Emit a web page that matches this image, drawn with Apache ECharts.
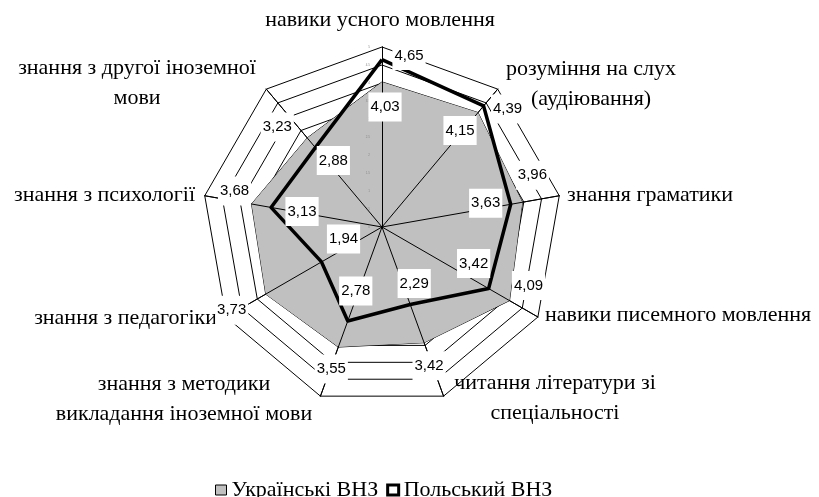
<!DOCTYPE html>
<html>
<head>
<meta charset="utf-8">
<script src="https://cdn.jsdelivr.net/npm/echarts@6/dist/echarts.min.js"></script>
<style>
  html, body { margin: 0; padding: 0; background: #fff; }
  #chart { width: 819px; height: 497px; }
</style>
</head>
<body>
<div id="chart"></div>
<script>
// categories in clockwise order, starting at the top
const CATEGORIES = [
  "навики усного мовлення",
  "розуміння на слух\n(аудіювання)",
  "знання граматики",
  "навики писемного мовлення",
  "читання літератури зі\nспеціальності",
  "знання з методики\nвикладання іноземної мови",
  "знання з педагогіки",
  "знання з психології",
  "знання з другої іноземної\nмови",
];
const UKRAINIAN = [4.03, 4.15, 3.96, 4.09, 3.42, 3.55, 3.73, 3.68, 3.23];
const POLISH = [4.65, 4.39, 3.63, 3.42, 2.29, 2.78, 1.94, 3.13, 2.88];
const SERIES_NAMES = ["Українські ВНЗ", "Польський ВНЗ"];
const AXIS_MAX = 5;
const AXIS_SPLITS = 10;

// value label placement: px away from the vertex, category order
const UA_LABEL_OFFSETS = [[3, 25], [-18, 18], [10, -27], [19, -15], [5, 23], [-7, 22], [-34, 16], [-17, -13], [-30, -11]];
const PL_LABEL_OFFSETS = [[27, -4], [24, 3], [-25, -1], [-15, -25], [4, -21], [8, -30], [22, -23], [31, 4], [18, 13]];

// category name placement: [x, y(middle), align]
const NAME_LAYOUT = [
  [380, 20, "center"],
  [591, 84, "center"],
  [567, 195, "left"],
  [545, 315, "left"],
  [555, 398, "center"],
  [184, 399, "center"],
  [217, 318, "right"],
  [195, 195, "right"],
  [137, 83, "center"],
];

const CENTER = [382, 227];
const RADIUS = 180;

const chart = echarts.init(document.getElementById("chart"));

// echarts lays indicators out counter-clockwise, so map category k to its slot
function slotOf(k) {
  return k === 0 ? 0 : CATEGORIES.length - k;
}

function toSlots(arr) {
  const out = [];
  arr.forEach((v, k) => { out[slotOf(k)] = v; });
  return out;
}

function fmt(v) {
  return v.toFixed(2).replace(".", ",");
}

function indicators(withLabel) {
  return toSlots(CATEGORIES).map((name, i) => {
    const ind = { name: name, min: 0, max: AXIS_MAX };
    if (withLabel && i === 0) ind.axisLabel = { show: true };
    return ind;
  });
}

function labelItems(values, offsets) {
  const slotted = toSlots(values);
  return values.map((v, k) => ({
    value: slotted,
    label: {
      offset: offsets[k],
      formatter: (p) => (p.dimensionIndex === slotOf(k) ? `{v|${fmt(v)}}` : ""),
    },
  }));
}

const baseRadar = {
  center: CENTER,
  radius: RADIUS,
  startAngle: 90,
  splitNumber: AXIS_SPLITS,
  shape: "polygon",
  axisName: { show: false },
  axisTick: { show: false },
  splitArea: { show: false },
};

const option = {
  animation: false,
  backgroundColor: "#fff",
  radar: [
    Object.assign({}, baseRadar, {
      indicator: indicators(false),
      axisLine: { lineStyle: { color: "#000", width: 1 } },
      splitLine: { lineStyle: { color: "#000", width: 1 } },
      axisLabel: { show: false },
    }),
    Object.assign({}, baseRadar, {
      z: 3,
      indicator: indicators(true),
      axisLine: { lineStyle: { color: "#000", width: 1 } },
      splitLine: { show: false },
      axisLabel: { show: false, fontSize: 3, color: "#888", margin: 12, fontFamily: "Liberation Sans" },
    }),
  ],
  legend: {
    left: 210,
    top: 474,
    itemWidth: 11,
    itemHeight: 10,
    itemGap: 8,
    textStyle: { fontFamily: "Liberation Serif", fontSize: 22, color: "#000" },
    data: [
      { name: SERIES_NAMES[0], icon: "rect", itemStyle: { color: "#c0c0c0", borderColor: "#000", borderWidth: 1 } },
      { name: SERIES_NAMES[1], icon: "rect", itemStyle: { color: "#fff", borderColor: "#000", borderWidth: 3 } },
    ],
  },
  graphic: CATEGORIES.map((name, k) => ({
    type: "text",
    x: NAME_LAYOUT[k][0],
    y: NAME_LAYOUT[k][1],
    silent: true,
    style: {
      text: name,
      fill: "#000",
      fontFamily: "Liberation Serif",
      fontSize: 22,
      lineHeight: 30,
      align: NAME_LAYOUT[k][2],
      verticalAlign: "middle",
    },
  })),
  series: [
    {
      type: "radar",
      radarIndex: 0,
      z: 2,
      symbol: "none",
      lineStyle: { color: "#000", width: 1 },
      areaStyle: { color: "#c0c0c0", opacity: 1 },
      data: [{ name: SERIES_NAMES[0], value: toSlots(UKRAINIAN) }],
    },
    {
      type: "radar",
      radarIndex: 0,
      z: 4,
      symbol: "none",
      lineStyle: { color: "#000", width: 3.5 },
      data: [{ name: SERIES_NAMES[1], value: toSlots(POLISH) }],
    },
    {
      type: "radar",
      radarIndex: 0,
      z: 5,
      silent: true,
      symbol: "circle",
      symbolSize: 1,
      itemStyle: { color: "rgba(0,0,0,0)" },
      lineStyle: { opacity: 0 },
      label: {
        show: true,
        position: "inside",
        rich: {
          v: {
            fontFamily: "Liberation Sans",
            fontSize: 15,
            color: "#000",
            backgroundColor: "#fff",
            padding: [7, 2, 7, 2],
          },
        },
      },
      data: labelItems(UKRAINIAN, UA_LABEL_OFFSETS).concat(labelItems(POLISH, PL_LABEL_OFFSETS)),
    },
  ],
};

chart.setOption(option);
</script>
</body>
</html>
